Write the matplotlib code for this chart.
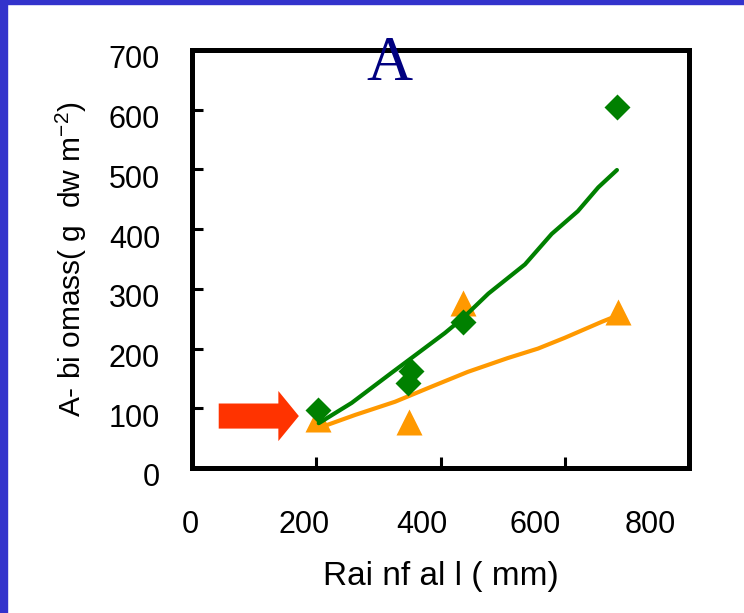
import matplotlib
matplotlib.use("Agg")
import matplotlib.pyplot as plt
from matplotlib.patches import Rectangle, FancyArrow
from matplotlib.transforms import ScaledTranslation

# measured points
green_x = [203, 348, 353, 436, 684]
green_y = [97, 143, 163, 245, 604]
orange_x = [203, 350, 436, 685]
orange_y = [82, 77, 276, 262]

# fitted curves as drawn in the figure
green_fit_x = [204, 257, 322, 353, 407, 436, 477, 536, 579, 621, 654, 684]
green_fit_y = [75, 109, 160, 184, 226, 251, 292, 341, 392, 430, 470, 499]
orange_fit_x = [204, 263, 327, 385, 444, 508, 557, 600, 660, 684]
orange_fit_y = [67, 89, 111, 136, 161, 184, 200, 218, 245, 255]

x_ticks = [0, 200, 400, 600, 800]
y_ticks = [0, 100, 200, 300, 400, 500, 600, 700]

# arrow marking the threshold rainfall
arrow_x, arrow_y = 43, 87
arrow_len, arrow_body, arrow_head, arrow_head_len = 129, 42, 84, 33

FONT = ["Liberation Sans Narrow", "Liberation Sans", "DejaVu Sans"]
plt.rcParams["font.family"] = FONT
plt.rcParams["mathtext.default"] = "regular"

fig = plt.figure(figsize=(7.44, 6.13), dpi=100)
fig.patch.set_facecolor("white")

# blue slide frame
fig.patches.append(Rectangle((0, 0), 7 / 744, 1, transform=fig.transFigure,
                             color="#3333cc", zorder=0))
fig.patches.append(Rectangle((0, 1 - 4 / 613), 1, 4 / 613, transform=fig.transFigure,
                             color="#3333cc", zorder=0))

ax = fig.add_axes([192 / 744, 1 - 468 / 613, 497 / 744, 418 / 613])
ax.set_xlim(0, 795)
ax.set_ylim(0, 700)

ax.plot(green_fit_x, green_fit_y, color="#008000", lw=3, solid_capstyle="round", zorder=3)
ax.plot(orange_fit_x, orange_fit_y, color="#ff9900", lw=3, solid_capstyle="round", zorder=3)
ax.plot(green_x, green_y, "D", color="#008000", ms=13.5, mec="none", zorder=4)
ax.plot(orange_x, orange_y, "^", color="#ff9900", ms=19, mec="none", zorder=2)

ax.add_patch(FancyArrow(arrow_x, arrow_y, arrow_len, 0, width=arrow_body,
                        head_width=arrow_head, head_length=arrow_head_len,
                        length_includes_head=True, color="#ff3300", lw=0,
                        clip_on=False, zorder=5))

for s in ax.spines.values():
    s.set_linewidth(3.6)
ax.tick_params(direction="in", length=8, width=2.2, labelsize=22,
               top=False, right=False)
ax.tick_params(axis="x", pad=30)
ax.tick_params(axis="y", pad=23)
ax.set_xticks(x_ticks)
ax.set_yticks(y_ticks)
ax.set_xticklabels([str(v) for v in x_ticks])
ax.set_yticklabels([str(v) for v in y_ticks])

# tick labels in the source sit on a slightly different scale than the ticks
x_shift = [-2, -12, -19, -30, -39]
for lab, dx in zip(ax.get_xticklabels(), x_shift):
    lab.set_transform(lab.get_transform() + ScaledTranslation(dx / 100, 0, fig.dpi_scale_trans))
for lab in ax.get_yticklabels():
    lab.set_transform(lab.get_transform() + ScaledTranslation(0, -7 / 100, fig.dpi_scale_trans))

ax.set_xlabel("Rai nf al l ( mm)", fontsize=24, labelpad=15)
ax.set_ylabel("A- bi omass( g  dw m$^{-2}$)", fontsize=21.5, labelpad=14)

fig.text(389 / 744, 1 - 80 / 613, "A", family="Liberation Serif", fontsize=46,
         color="#000080", ha="center", va="baseline", zorder=10)

fig.savefig("out.png", dpi=100)
